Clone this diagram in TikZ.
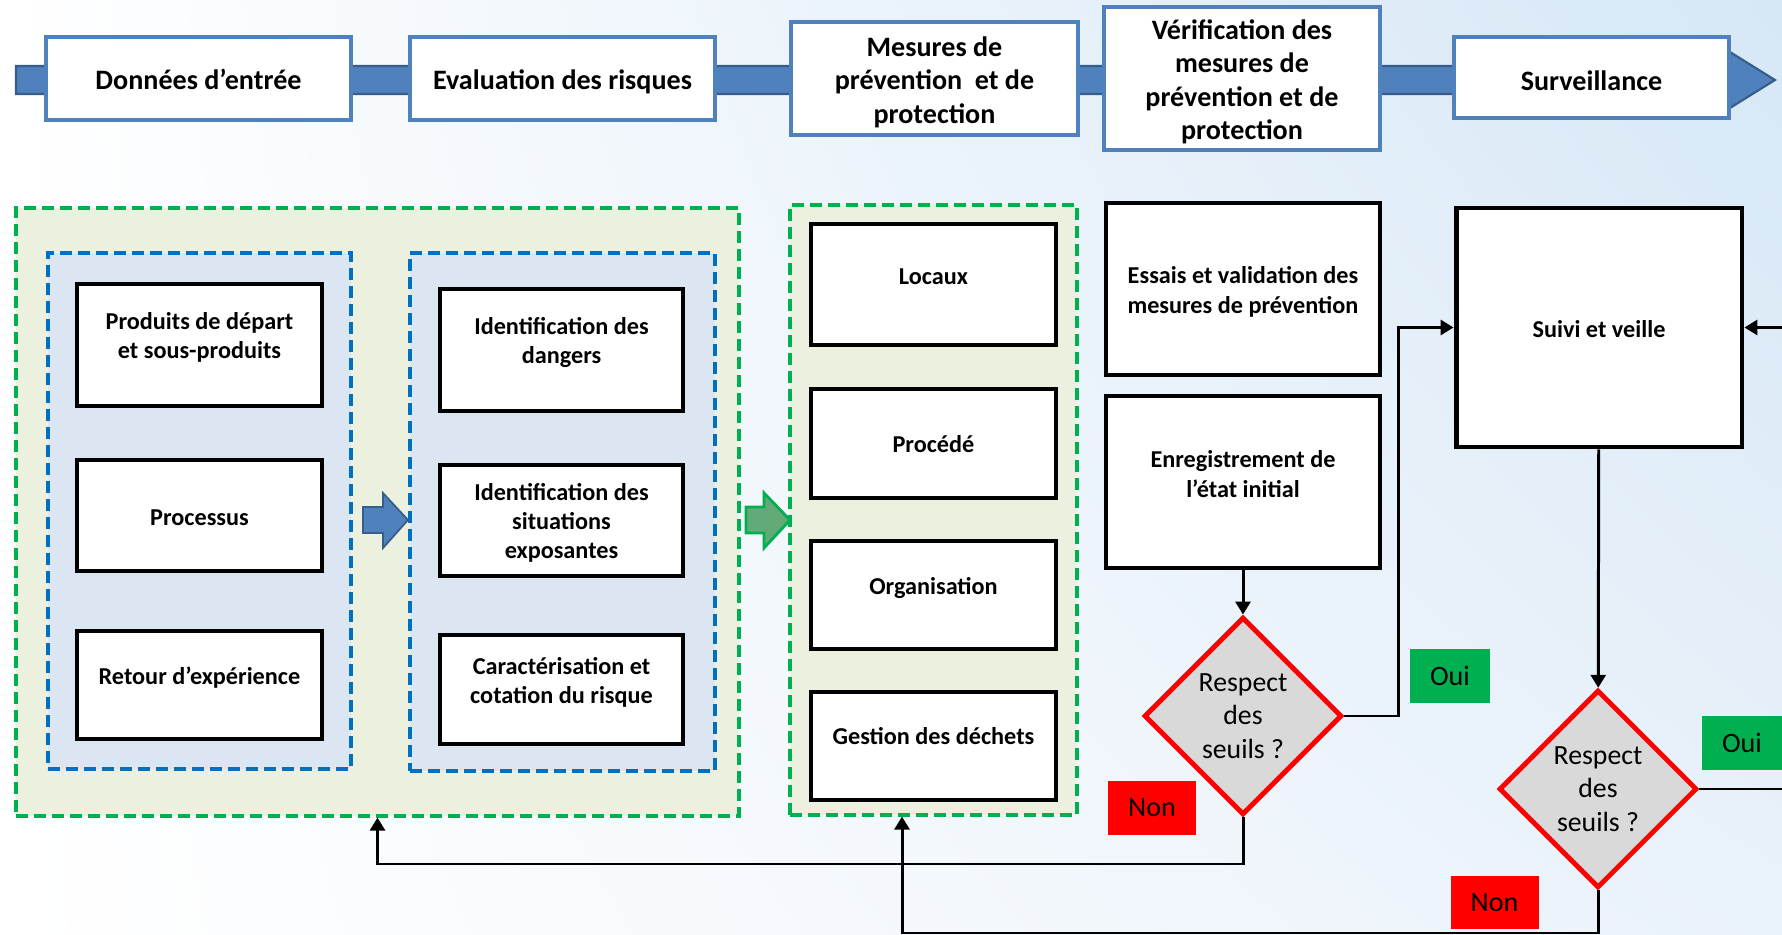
\documentclass[tikz,border=0pt]{standalone}
\usepackage{fontspec}
\setmainfont{Carlito}
\usetikzlibrary{shapes.geometric,arrows.meta,shadings}

\definecolor{bandblue}{RGB}{79,129,189}
\definecolor{banddark}{RGB}{56,93,138}
\definecolor{dashgreen}{RGB}{0,176,80}
\definecolor{dashblue}{RGB}{0,112,192}
\definecolor{olivefill}{RGB}{235,241,222}
\definecolor{bluefill}{RGB}{220,230,242}
\definecolor{arrowgreen}{RGB}{99,170,120}
\definecolor{nonred}{RGB}{255,0,0}
\definecolor{seuilgrey}{RGB}{217,217,217}
\definecolor{skyblue}{RGB}{214,231,246}
\definecolor{paleblue}{RGB}{234,242,250}

\begin{document}
\begin{tikzpicture}[x=0.02cm,y=-0.02cm,
  every node/.style={align=center,inner sep=0pt},
  stage/.style={draw=bandblue,line width=2.3pt,fill=white},
  title/.style={font=\fontsize{16}{19}\selectfont\bfseries,yshift=-0.07cm},
  item/.style={draw=black,line width=2.8pt,fill=white},
  words/.style={font=\fontsize{13.8}{16.7}\selectfont\bfseries},
  greengroup/.style={draw=dashgreen,fill=olivefill,line width=1.9pt,
    dash pattern=on 0.24cm off 0.12cm},
  bluegroup/.style={draw=dashblue,fill=bluefill,line width=1.9pt,
    dash pattern=on 0.24cm off 0.12cm},
  seuil/.style={diamond,draw=nonred,fill=seuilgrey,line width=2.8pt,
    minimum width=3.96cm,minimum height=3.96cm,
    font=\fontsize{15.8}{19}\selectfont},
  answer/.style={minimum height=1.08cm,font=\fontsize{16}{19}\selectfont},
  link/.style={draw=black,line width=1.7pt,-{Triangle[length=0.26cm,width=0.3cm]}}]
  \useasboundingbox (0,0) rectangle (1782,935);
  \shade[upper left=white,upper right=skyblue,lower left=white,lower right=paleblue]
    (0,0) rectangle (1782,935);

  % frise du haut
  \draw[fill=bandblue,draw=banddark,line width=1.2pt]
    (16,66) -- (1730,66) -- (1730,52) -- (1775,80) -- (1730,108) -- (1730,94) -- (16,94) -- cycle;
  \node (in) [stage,minimum width=6.1cm,minimum height=1.66cm,
    label={[title,yshift=0.05cm]center:Données d’entrée}] at (198.5,78.5) {};
  \node (eval) [stage,minimum width=6.1cm,minimum height=1.66cm,
    label={[title]center:Evaluation des risques}] at (562.5,78.5) {};
  \node (mes) [stage,minimum width=5.74cm,minimum height=2.26cm,
    label={[title]center:Mesures de\\prévention\ \ et de\\protection}] at (934.5,78.5) {};
  \node (verif) [stage,minimum width=5.52cm,minimum height=2.86cm,
    label={[title]center:Vérification des\\mesures de\\prévention et de\\protection}] at (1242,78.5) {};
  \node (surv) [stage,minimum width=5.5cm,minimum height=1.62cm,
    label={[title]center:Surveillance}] at (1591.5,77.5) {};

  % groupes
  \node (grp1) [greengroup,minimum width=14.46cm,minimum height=12.16cm] at (377.5,512) {};
  \node (blu1) [bluegroup,minimum width=6.06cm,minimum height=10.32cm] at (199.5,511) {};
  \node (blu2) [bluegroup,minimum width=6.1cm,minimum height=10.36cm] at (562.5,512) {};
  \node (grp2) [greengroup,minimum width=5.74cm,minimum height=12.2cm] at (933.5,510) {};

  \node (prod) [item,minimum width=4.9cm,minimum height=2.44cm,
    label={[words,yshift=0.15cm]center:Produits de départ\\et sous-produits}] at (199.5,345) {};
  \node (proc) [item,minimum width=4.9cm,minimum height=2.22cm,
    label={[words,yshift=-0.04cm]center:Processus}] at (199.5,515.5) {};
  \node (retex) [item,minimum width=4.9cm,minimum height=2.16cm,
    label={[words,yshift=0.14cm]center:Retour d’expérience}] at (199.5,685) {};

  \node (dang) [item,minimum width=4.86cm,minimum height=2.44cm,
    label={[words,yshift=0.15cm]center:Identification des\\dangers}] at (561.5,350) {};
  \node (situ) [item,minimum width=4.86cm,minimum height=2.22cm,
    label={[words,yshift=-0.05cm]center:Identification des\\situations\\exposantes}] at (561.5,520.5) {};
  \node (cota) [item,minimum width=4.86cm,minimum height=2.18cm,
    label={[words,yshift=0.14cm]center:Caractérisation et\\cotation du risque}] at (561.5,689.5) {};

  \draw[fill=bandblue,draw=banddark,line width=1pt]
    (363,507) -- (383,507) -- (383,493) -- (408,520) -- (383,548) -- (383,533) -- (363,533) -- cycle;
  \draw[fill=arrowgreen,draw=dashgreen,line width=1.6pt]
    (746,507) -- (764,507) -- (764,493) -- (790,520) -- (764,548) -- (764,533) -- (746,533) -- cycle;

  \node (loc) [item,minimum width=4.9cm,minimum height=2.42cm,
    label={[words,yshift=0.16cm]center:Locaux}] at (933.5,284.5) {};
  \node (procede) [item,minimum width=4.9cm,minimum height=2.18cm,
    label={[words,yshift=-0.02cm]center:Procédé}] at (933.5,443.5) {};
  \node (orga) [item,minimum width=4.9cm,minimum height=2.16cm,
    label={[words,yshift=0.14cm]center:Organisation}] at (933.5,595) {};
  \node (dech) [item,minimum width=4.9cm,minimum height=2.16cm,
    label={[words,yshift=0.2cm]center:Gestion des déchets}] at (933.5,746) {};

  % verification et surveillance
  \node (essais) [item,minimum width=5.48cm,minimum height=3.44cm,
    label={[words,yshift=-0.06cm]center:Essais et validation des\\mesures de prévention}] at (1243,289) {};
  \node (enreg) [item,minimum width=5.48cm,minimum height=3.44cm,
    label={[words,yshift=0.16cm]center:Enregistrement de\\l’état initial}] at (1243,482) {};
  \node (suivi) [item,minimum width=5.72cm,minimum height=4.78cm,
    label={[words,yshift=-0.04cm]center:Suivi et veille}] at (1599,327.5) {};

  \node (seuil1) [seuil] at (1243,716) {Respect\\des\\seuils ?};
  \node (seuil2) [seuil] at (1598,789) {Respect\\des\\seuils ?};

  \node (oui1) [answer,fill=dashgreen,minimum width=1.6cm] at (1450,676) {Oui};
  \node (oui2) [answer,fill=dashgreen,minimum width=1.6cm] at (1742,743) {Oui};
  \node (non1) [answer,fill=nonred,minimum width=1.76cm] at (1152,808) {Non};
  \node (non2) [answer,fill=nonred,minimum width=1.76cm] at (1494.5,902.5) {Non};

  \coordinate (up1) at (1398,327.5);
  \coordinate (far) at (1800,327.5);
  \coordinate (back1) at (377.5,864);
  \coordinate (back2) at (902,933);
  \draw[link] (enreg) -- (seuil1);
  \draw[link] (suivi) -- (seuil2);
  \draw[link] (seuil1.east) -| (up1) -- (suivi.west);
  \draw[link] (seuil2.east) -| (far) -- (suivi.east);
  \draw[link] (seuil1.south) |- (back1) -- (grp1.south);
  \draw[link] (seuil2.south) |- (back2) -- (back2 |- grp2.south);
\end{tikzpicture}
\end{document}
